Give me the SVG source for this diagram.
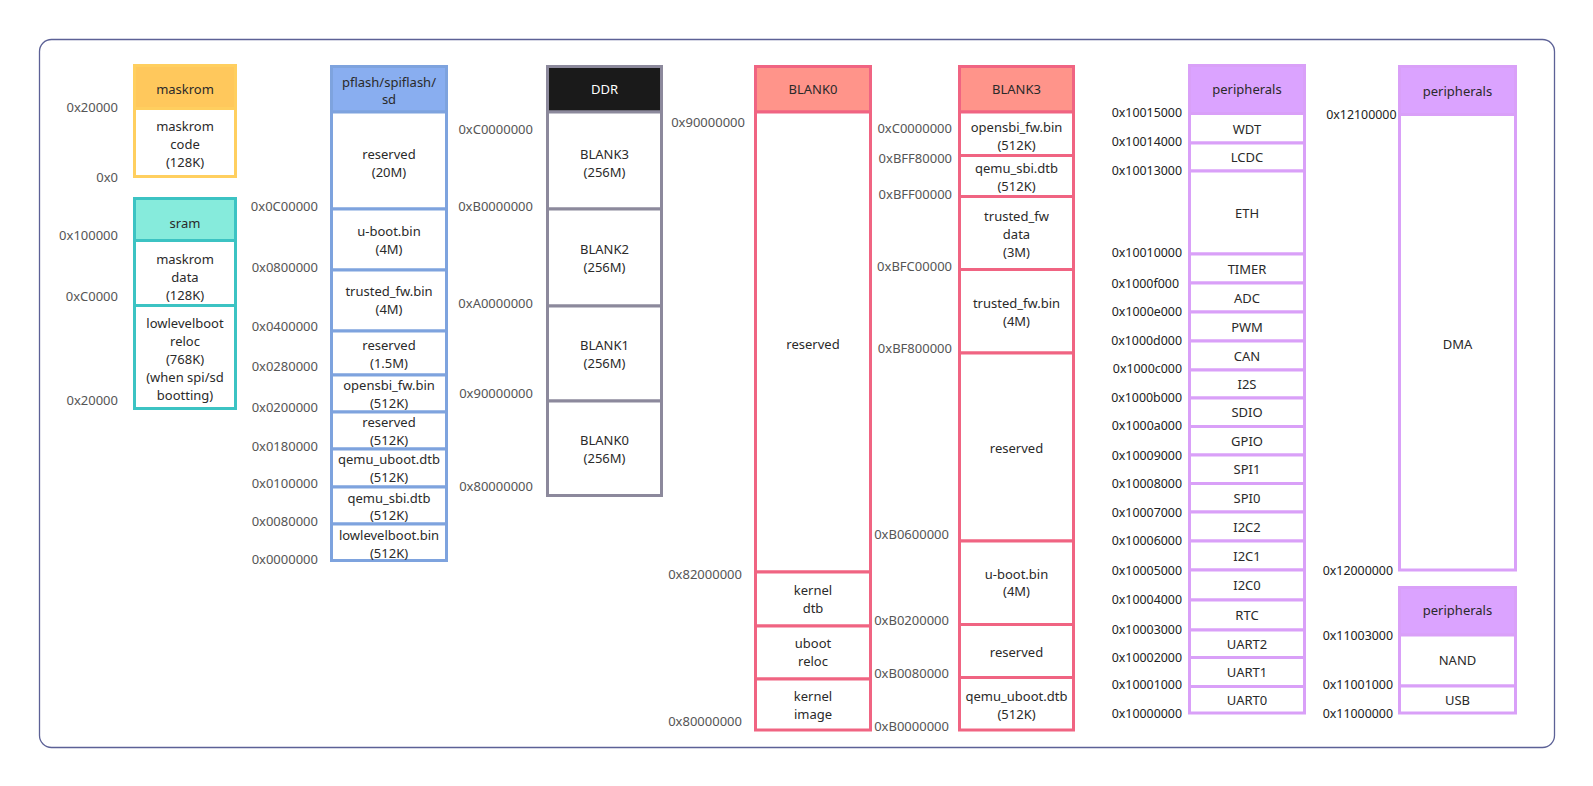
<svg xmlns="http://www.w3.org/2000/svg" width="1593" height="786" viewBox="0 0 1593 786">
<style>
text{font-family:"Noto Sans","Open Sans","Liberation Sans",sans-serif;font-size:13px;dominant-baseline:central}
.t{fill:#2a2a2a;text-anchor:middle}
.l{fill:#555;text-anchor:end}
.lp{fill:#222;text-anchor:end;font-size:12.4px}
.c{fill:#fff;stroke-width:3}
.ym{stroke:#FFCF5F}.ymh{fill:#FFC85C;stroke:#FFCF5F;stroke-width:3}
.tl{stroke:#3CC3C3}.tlh{fill:#86EBDC;stroke:#3CC3C3;stroke-width:3}
.bl{stroke:#7EA3DE}.blh{fill:#89AEF0;stroke:#7EA3DE;stroke-width:3}
.gr{stroke:#8C899C}.grh{fill:#1A1A1A;stroke:#8C899C;stroke-width:3}
.rd{stroke:#F06482}.rdh{fill:#FF948A;stroke:#F06482;stroke-width:3}
.pu{stroke:#D9A0F8}.puh{fill:#DBA3FF;stroke:#D9A0F8;stroke-width:3}
</style>
<rect x="39.5" y="39.5" width="1515" height="708" rx="12" fill="#fff" stroke="#5C6196" stroke-width="1.3"/>

<g id="maskrom">
<rect class="ymh" x="134.5" y="65.5" width="101" height="43"/>
<rect class="c ym" x="134.5" y="108.5" width="101" height="68"/>
<text class="t" x="185" y="89">maskrom</text>
<text class="t" x="185"><tspan x="185" y="125.5">maskrom</tspan><tspan x="185" y="143.5">code</tspan><tspan x="185" y="161.5">(128K)</tspan></text>
<text class="l" x="118" y="107">0x20000</text>
<text class="l" x="118" y="177">0x0</text>
</g>

<g id="sram">
<rect class="tlh" x="134.5" y="198.5" width="101" height="42"/>
<rect class="c tl" x="134.5" y="240.5" width="101" height="65"/>
<rect class="c tl" x="134.5" y="305.5" width="101" height="103"/>
<text class="t" x="185" y="222.5">sram</text>
<text class="t"><tspan x="185" y="258.5">maskrom</tspan><tspan x="185" y="276.5">data</tspan><tspan x="185" y="294.5">(128K)</tspan></text>
<text class="t"><tspan x="185" y="322.5">lowlevelboot</tspan><tspan x="185" y="340.5">reloc</tspan><tspan x="185" y="358.5">(768K)</tspan><tspan x="185" y="376.5">(when spi/sd</tspan><tspan x="185" y="394.5">bootting)</tspan></text>
<text class="l" x="118" y="235">0x100000</text>
<text class="l" x="118" y="296">0xC0000</text>
<text class="l" x="118" y="400">0x20000</text>
</g>

<g id="pflash">
<rect class="blh" x="331.5" y="66.5" width="115" height="45.5"/>
<rect class="c bl" x="331.5" y="112" width="115" height="97"/>
<rect class="c bl" x="331.5" y="209" width="115" height="61"/>
<rect class="c bl" x="331.5" y="270" width="115" height="61"/>
<rect class="c bl" x="331.5" y="331" width="115" height="44"/>
<rect class="c bl" x="331.5" y="375" width="115" height="37"/>
<rect class="c bl" x="331.5" y="412" width="115" height="37"/>
<rect class="c bl" x="331.5" y="449" width="115" height="38"/>
<rect class="c bl" x="331.5" y="487" width="115" height="37"/>
<rect class="c bl" x="331.5" y="524" width="115" height="36.5"/>
<text class="t"><tspan x="389" y="81.5">pflash/spiflash/</tspan><tspan x="389" y="99">sd</tspan></text>
<text class="t"><tspan x="389" y="154">reserved</tspan><tspan x="389" y="172">(20M)</tspan></text>
<text class="t"><tspan x="389" y="231">u-boot.bin</tspan><tspan x="389" y="249">(4M)</tspan></text>
<text class="t"><tspan x="389" y="291">trusted_fw.bin</tspan><tspan x="389" y="309">(4M)</tspan></text>
<text class="t"><tspan x="389" y="345">reserved</tspan><tspan x="389" y="363">(1.5M)</tspan></text>
<text class="t"><tspan x="389" y="385">opensbi_fw.bin</tspan><tspan x="389" y="403">(512K)</tspan></text>
<text class="t"><tspan x="389" y="422">reserved</tspan><tspan x="389" y="440">(512K)</tspan></text>
<text class="t"><tspan x="389" y="459">qemu_uboot.dtb</tspan><tspan x="389" y="477">(512K)</tspan></text>
<text class="t"><tspan x="389" y="497.5">qemu_sbi.dtb</tspan><tspan x="389" y="515">(512K)</tspan></text>
<text class="t"><tspan x="389" y="535">lowlevelboot.bin</tspan><tspan x="389" y="553">(512K)</tspan></text>
<text class="l" x="318" y="205.5">0x0C00000</text>
<text class="l" x="318" y="266.5">0x0800000</text>
<text class="l" x="318" y="326">0x0400000</text>
<text class="l" x="318" y="366">0x0280000</text>
<text class="l" x="318" y="407">0x0200000</text>
<text class="l" x="318" y="445.5">0x0180000</text>
<text class="l" x="318" y="483">0x0100000</text>
<text class="l" x="318" y="521">0x0080000</text>
<text class="l" x="318" y="559">0x0000000</text>
</g>

<g id="ddr">
<rect class="grh" x="547.5" y="66.5" width="114" height="45.5"/>
<rect class="c gr" x="547.5" y="112" width="114" height="97"/>
<rect class="c gr" x="547.5" y="209" width="114" height="97"/>
<rect class="c gr" x="547.5" y="306" width="114" height="95"/>
<rect class="c gr" x="547.5" y="401" width="114" height="94.5"/>
<text class="t" x="604.5" y="88.5" style="fill:#fff">DDR</text>
<text class="t"><tspan x="604.5" y="153.5">BLANK3</tspan><tspan x="604.5" y="171.5">(256M)</tspan></text>
<text class="t"><tspan x="604.5" y="249">BLANK2</tspan><tspan x="604.5" y="267">(256M)</tspan></text>
<text class="t"><tspan x="604.5" y="345">BLANK1</tspan><tspan x="604.5" y="363">(256M)</tspan></text>
<text class="t"><tspan x="604.5" y="440">BLANK0</tspan><tspan x="604.5" y="458">(256M)</tspan></text>
<text class="l" x="533" y="129">0xC0000000</text>
<text class="l" x="533" y="206">0xB0000000</text>
<text class="l" x="533" y="303">0xA0000000</text>
<text class="l" x="533" y="393">0x90000000</text>
<text class="l" x="533" y="486">0x80000000</text>
</g>

<g id="blank0">
<rect class="rdh" x="755.5" y="66.5" width="115" height="45.5"/>
<rect class="c rd" x="755.5" y="112" width="115" height="460"/>
<rect class="c rd" x="755.5" y="572" width="115" height="54"/>
<rect class="c rd" x="755.5" y="626" width="115" height="53"/>
<rect class="c rd" x="755.5" y="679" width="115" height="51"/>
<text class="t" x="813" y="88.5">BLANK0</text>
<text class="t" x="813" y="344">reserved</text>
<text class="t"><tspan x="813" y="590">kernel</tspan><tspan x="813" y="608">dtb</tspan></text>
<text class="t"><tspan x="813" y="643">uboot</tspan><tspan x="813" y="661">reloc</tspan></text>
<text class="t"><tspan x="813" y="696">kernel</tspan><tspan x="813" y="714">image</tspan></text>
<text class="l" x="745" y="121.5">0x90000000</text>
<text class="l" x="742" y="573.5">0x82000000</text>
<text class="l" x="742" y="721">0x80000000</text>
</g>

<g id="blank3">
<rect class="rdh" x="959.5" y="66.5" width="114" height="45.5"/>
<rect class="c rd" x="959.5" y="112" width="114" height="43.5"/>
<rect class="c rd" x="959.5" y="155.5" width="114" height="41"/>
<rect class="c rd" x="959.5" y="196.5" width="114" height="73"/>
<rect class="c rd" x="959.5" y="269.5" width="114" height="83.5"/>
<rect class="c rd" x="959.5" y="353" width="114" height="188"/>
<rect class="c rd" x="959.5" y="541" width="114" height="83.5"/>
<rect class="c rd" x="959.5" y="624.5" width="114" height="53"/>
<rect class="c rd" x="959.5" y="677.5" width="114" height="52.5"/>
<text class="t" x="1016.5" y="88.5">BLANK3</text>
<text class="t"><tspan x="1016.5" y="127">opensbi_fw.bin</tspan><tspan x="1016.5" y="144.5">(512K)</tspan></text>
<text class="t"><tspan x="1016.5" y="168">qemu_sbi.dtb</tspan><tspan x="1016.5" y="185.5">(512K)</tspan></text>
<text class="t"><tspan x="1016.5" y="216">trusted_fw</tspan><tspan x="1016.5" y="234">data</tspan><tspan x="1016.5" y="252">(3M)</tspan></text>
<text class="t"><tspan x="1016.5" y="303">trusted_fw.bin</tspan><tspan x="1016.5" y="320.5">(4M)</tspan></text>
<text class="t" x="1016.5" y="448">reserved</text>
<text class="t"><tspan x="1016.5" y="573.5">u-boot.bin</tspan><tspan x="1016.5" y="591">(4M)</tspan></text>
<text class="t" x="1016.5" y="652">reserved</text>
<text class="t"><tspan x="1016.5" y="696">qemu_uboot.dtb</tspan><tspan x="1016.5" y="713.5">(512K)</tspan></text>
<text class="l" x="952" y="128">0xC0000000</text>
<text class="l" x="952" y="158">0xBFF80000</text>
<text class="l" x="952" y="193.5">0xBFF00000</text>
<text class="l" x="952" y="265.5">0xBFC00000</text>
<text class="l" x="952" y="348">0xBF800000</text>
<text class="l" x="949" y="534">0xB0600000</text>
<text class="l" x="949" y="620">0xB0200000</text>
<text class="l" x="949" y="672.5">0xB0080000</text>
<text class="l" x="949" y="725.5">0xB0000000</text>
</g>

<g id="peripherals1">
<rect class="puh" x="1189.5" y="65.5" width="115" height="48"/>
<rect class="c pu" x="1189.5" y="113.5" width="115" height="29.5"/>
<rect class="c pu" x="1189.5" y="143" width="115" height="28"/>
<rect class="c pu" x="1189.5" y="171" width="115" height="83"/>
<rect class="c pu" x="1189.5" y="254" width="115" height="29"/>
<rect class="c pu" x="1189.5" y="283" width="115" height="29"/>
<rect class="c pu" x="1189.5" y="312" width="115" height="29"/>
<rect class="c pu" x="1189.5" y="341" width="115" height="29"/>
<rect class="c pu" x="1189.5" y="370" width="115" height="28"/>
<rect class="c pu" x="1189.5" y="398" width="115" height="28.5"/>
<rect class="c pu" x="1189.5" y="426.5" width="115" height="28.5"/>
<rect class="c pu" x="1189.5" y="455" width="115" height="28.5"/>
<rect class="c pu" x="1189.5" y="483.5" width="115" height="28.5"/>
<rect class="c pu" x="1189.5" y="512" width="115" height="29"/>
<rect class="c pu" x="1189.5" y="541" width="115" height="29"/>
<rect class="c pu" x="1189.5" y="570" width="115" height="30"/>
<rect class="c pu" x="1189.5" y="600" width="115" height="30"/>
<rect class="c pu" x="1189.5" y="630" width="115" height="27.5"/>
<rect class="c pu" x="1189.5" y="657.5" width="115" height="29"/>
<rect class="c pu" x="1189.5" y="686.5" width="115" height="26.5"/>
<text class="t" x="1247" y="89">peripherals</text>
<text class="t" x="1247" y="128.5">WDT</text>
<text class="t" x="1247" y="157">LCDC</text>
<text class="t" x="1247" y="212.5">ETH</text>
<text class="t" x="1247" y="268.5">TIMER</text>
<text class="t" x="1247" y="297.5">ADC</text>
<text class="t" x="1247" y="326.5">PWM</text>
<text class="t" x="1247" y="355.5">CAN</text>
<text class="t" x="1247" y="384">I2S</text>
<text class="t" x="1247" y="412.2">SDIO</text>
<text class="t" x="1247" y="440.7">GPIO</text>
<text class="t" x="1247" y="469.2">SPI1</text>
<text class="t" x="1247" y="497.7">SPI0</text>
<text class="t" x="1247" y="526.5">I2C2</text>
<text class="t" x="1247" y="555.5">I2C1</text>
<text class="t" x="1247" y="585">I2C0</text>
<text class="t" x="1247" y="615">RTC</text>
<text class="t" x="1247" y="643.7">UART2</text>
<text class="t" x="1247" y="672">UART1</text>
<text class="t" x="1247" y="699.7">UART0</text>
<text class="lp" x="1182" y="112.5">0x10015000</text>
<text class="lp" x="1182" y="141.5">0x10014000</text>
<text class="lp" x="1182" y="170">0x10013000</text>
<text class="lp" x="1182" y="252.5">0x10010000</text>
<text class="lp" x="1179" y="283">0x1000f000</text>
<text class="lp" x="1182" y="311">0x1000e000</text>
<text class="lp" x="1182" y="340">0x1000d000</text>
<text class="lp" x="1182" y="368.5">0x1000c000</text>
<text class="lp" x="1182" y="397">0x1000b000</text>
<text class="lp" x="1182" y="425">0x1000a000</text>
<text class="lp" x="1182" y="455">0x10009000</text>
<text class="lp" x="1182" y="483.5">0x10008000</text>
<text class="lp" x="1182" y="512.5">0x10007000</text>
<text class="lp" x="1182" y="540">0x10006000</text>
<text class="lp" x="1182" y="570">0x10005000</text>
<text class="lp" x="1182" y="599.5">0x10004000</text>
<text class="lp" x="1182" y="629.5">0x10003000</text>
<text class="lp" x="1182" y="657">0x10002000</text>
<text class="lp" x="1182" y="684.5">0x10001000</text>
<text class="lp" x="1182" y="713.5">0x10000000</text>
</g>

<g id="peripherals2">
<rect class="puh" x="1399.5" y="66.5" width="116" height="48"/>
<rect class="c pu" x="1399.5" y="114.5" width="116" height="455.5"/>
<text class="t" x="1457.5" y="90.5">peripherals</text>
<text class="t" x="1457.5" y="344">DMA</text>
<text class="lp" x="1396.5" y="114">0x12100000</text>
<text class="lp" x="1393" y="570.5">0x12000000</text>
</g>

<g id="peripherals3">
<rect class="puh" x="1399.5" y="587.5" width="116" height="47.5"/>
<rect class="c pu" x="1399.5" y="635" width="116" height="51"/>
<rect class="c pu" x="1399.5" y="686" width="116" height="27"/>
<text class="t" x="1457.5" y="610">peripherals</text>
<text class="t" x="1457.5" y="660">NAND</text>
<text class="t" x="1457.5" y="700">USB</text>
<text class="lp" x="1393" y="635">0x11003000</text>
<text class="lp" x="1393" y="684">0x11001000</text>
<text class="lp" x="1393" y="713.5">0x11000000</text>
</g>
</svg>
